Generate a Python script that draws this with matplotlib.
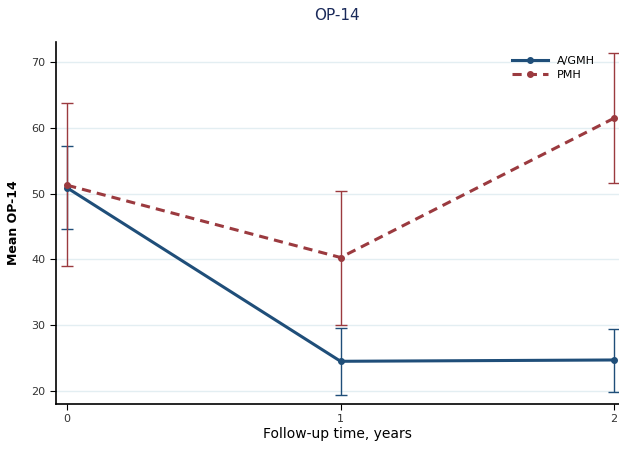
import numpy as np
import matplotlib.pyplot as plt

# DATA
years = [0, 1, 2]
agmh_mean = [50.9, 24.5, 24.7]
agmh_lo = [44.6, 19.4, 19.8]
agmh_hi = [57.2, 29.5, 29.4]
pmh_mean = [51.3, 40.3, 61.5]
pmh_lo = [39.0, 30.0, 51.6]
pmh_hi = [63.8, 50.5, 71.5]
yticks = [20, 30, 40, 50, 60, 70]

navy = '#1f4e79'
maroon = '#9b3a3f'

fig = plt.figure(figsize=(6.19, 4.57), dpi=100)
ax = fig.add_axes([0.09, 0.116, 0.91, 0.792])

# gridlines
for t in yticks:
    ax.axhline(t, color='#e3eef2', lw=1, zorder=0)

def draw(mean, lo, hi, color, ls, label):
    m = np.array(mean)
    err = [m - np.array(lo), np.array(hi) - m]
    ax.errorbar(years, mean, yerr=err, fmt='none', ecolor=color, elinewidth=1,
                capsize=4, capthick=1, zorder=2)
    ax.plot(years, mean, color=color, ls=ls, lw=2.2, marker='o', ms=4,
            label=label, zorder=3)

draw(agmh_mean, agmh_lo, agmh_hi, navy, '-', 'A/GMH')
draw(pmh_mean, pmh_lo, pmh_hi, maroon, (0, (3, 2)), 'PMH')

ax.set_xlim(-0.042, 2.0185)
ax.set_ylim(18.0, 73.1)
ax.set_xticks(years)
ax.set_yticks(yticks)
ax.tick_params(labelsize=8, length=4, labelcolor='#333333')
for s in ['top', 'right']:
    ax.spines[s].set_visible(False)
ax.spines['left'].set_linewidth(1.2)
ax.spines['bottom'].set_linewidth(1.2)

ax.set_xlabel('Follow-up time, years', fontsize=10, labelpad=2)
ax.set_ylabel('Mean OP-14', fontsize=9, labelpad=8, fontweight='bold')
fig.text(0.545, 0.965, 'OP-14', ha='center', va='center', fontsize=11, color='#1a2a5a')

ax.legend(loc='upper right', bbox_to_anchor=(0.975, 0.99), frameon=False,
          fontsize=8, handlelength=3.2, labelspacing=0.4)

fig.savefig('out.png', dpi=100)
